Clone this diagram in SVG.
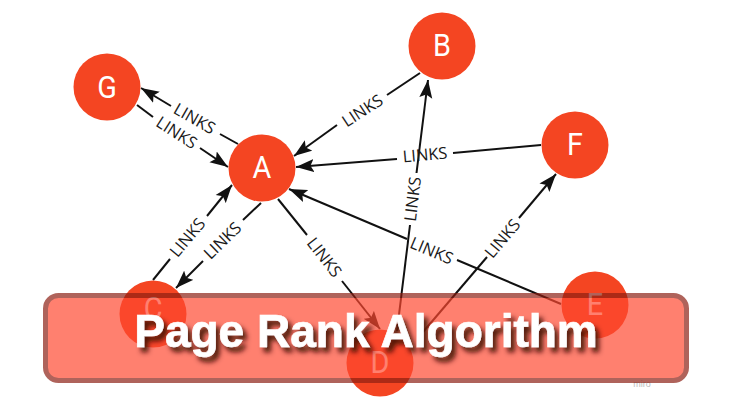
<svg xmlns="http://www.w3.org/2000/svg" width="730" height="400" viewBox="0 0 730 400">
<style>
.bg{fill:#fff}
.c{fill:none;stroke:#111;stroke-width:2}
.a{marker-end:url(#arrow)}
.l{font-family:"Open Sans","Liberation Sans",sans-serif;font-size:16.500px;fill:#1a1a1a;text-anchor:middle;dominant-baseline:central}
.n{fill:#f44522}
.t{font-family:Roboto,"Liberation Sans",sans-serif;font-size:32px;fill:#fff;text-anchor:middle}
.banner{fill:#ff4830;stroke:#8c1e12;stroke-width:5;opacity:.69}
.title{font-family:"Liberation Sans",Arial,sans-serif;font-weight:700;font-size:46px;fill:#fff;stroke:#fff;stroke-width:.7;text-anchor:middle;filter:url(#sh)}
.miro{font-family:"Liberation Sans",Arial,sans-serif;font-size:9px;fill:#bbb;text-anchor:middle}
</style>
<defs>
<marker id="arrow" markerUnits="userSpaceOnUse" markerWidth="19" markerHeight="14" refX="18" refY="7" orient="auto">
<path d="M0 0.500L18 7L0 13.500L3.500 7Z" fill="#111"/>
</marker>
<filter id="sh" x="-5%" y="-20%" width="112%" height="160%">
<feDropShadow dx="4" dy="5" stdDeviation="2.500" flood-color="#3a0a05" flood-opacity=".9"/>
</filter>
</defs>
<rect class="bg" width="730" height="400"/>
<text class="miro" x="642" y="387">miro</text>
<g id="connectors">
<path class="c" d="M238 144L220 134"/><path class="c a" d="M171 106L141 88"/>
<path class="c" d="M137 105L153 117"/><path class="c a" d="M200 148L228 167"/>
<path class="c" d="M153 280L170 259"/><path class="c a" d="M207 216L232 185"/>
<path class="c" d="M261 203L243 220"/><path class="c a" d="M203 261L176 288"/>
<path class="c" d="M278 199L307 235"/><path class="c a" d="M342 281L380 329"/>
<path class="c" d="M561 304L457 260"/><path class="c a" d="M407 239L289 189"/>
<path class="c" d="M397 331L410 225"/><path class="c a" d="M416.500 173L428 80"/>
<path class="c" d="M423 332L487 257"/><path class="c a" d="M519 218L556 174"/>
<path class="c" d="M541 145L453 153"/><path class="c a" d="M397 159L296 167"/>
<path class="c" d="M420 73L387 95"/><path class="c a" d="M337 125L294 156"/>
<text class="l" transform="translate(195 118) rotate(30)">LINKS</text>
<text class="l" transform="translate(177 132) rotate(33)">LINKS</text>
<text class="l" transform="translate(187 237) rotate(-50)">LINKS</text>
<text class="l" transform="translate(222 240) rotate(-44)">LINKS</text>
<text class="l" transform="translate(325 257) rotate(52)">LINKS</text>
<text class="l" transform="translate(432 250) rotate(23)">LINKS</text>
<text class="l" transform="translate(412 199) rotate(-83)">LINKS</text>
<text class="l" transform="translate(502 238) rotate(-50)">LINKS</text>
<text class="l" transform="translate(425 154) rotate(-5)">LINKS</text>
<text class="l" transform="translate(362 110) rotate(-33)">LINKS</text>
</g>
<g id="node-G"><circle class="n" cx="107" cy="87" r="33.500"/><text class="t" transform="translate(107 98) scale(.9 1)">G</text></g>
<g id="node-A"><circle class="n" cx="262" cy="168" r="33.500"/><text class="t" transform="translate(262 178) scale(.9 1)">A</text></g>
<g id="node-B"><circle class="n" cx="442" cy="46" r="33.500"/><text class="t" transform="translate(442 56) scale(.9 1)">B</text></g>
<g id="node-F"><circle class="n" cx="575" cy="145" r="33.500"/><text class="t" transform="translate(575 155) scale(.9 1)">F</text></g>
<g id="node-E"><circle class="n" cx="595" cy="305" r="33.500"/><text class="t" transform="translate(595 315) scale(.9 1)">E</text></g>
<g id="node-D"><circle class="n" cx="380" cy="363" r="33.500"/><text class="t" transform="translate(380 373) scale(.9 1)">D</text></g>
<g id="node-C"><circle class="n" cx="153" cy="314" r="33.500"/><text class="t" transform="translate(153 319) scale(.9 1)">C</text></g>
<g id="banner">
<rect class="banner" x="45.500" y="295.500" width="641" height="85" rx="13"/>
<text class="title" x="366" y="347">Page Rank Algorithm</text>
</g>
</svg>
